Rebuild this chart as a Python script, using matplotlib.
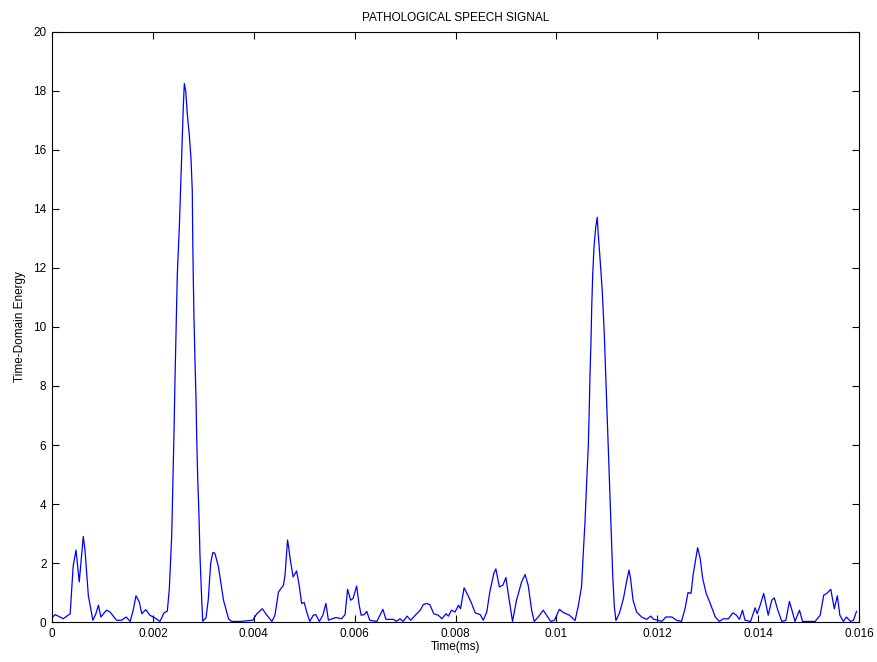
import matplotlib.pyplot as plt

# (time in s, energy)
points = [
    (0.0, 0.14), (0.00006, 0.25), (0.00016, 0.17), (0.00022, 0.11), (0.00036, 0.28),
    (0.00042, 1.9), (0.000476, 2.44), (0.00054, 1.36), (0.00057, 1.93), (0.00062, 2.9),
    (0.000654, 2.44), (0.00072, 0.9), (0.00081, 0.06), (0.00087, 0.28), (0.00092, 0.57),
    (0.00097, 0.17), (0.00102, 0.28), (0.00108, 0.4), (0.00115, 0.34), (0.00128, 0.06),
    (0.00138, 0.06), (0.00147, 0.17), (0.00155, 0.02), (0.00161, 0.4), (0.001665, 0.89),
    (0.00173, 0.68), (0.00178, 0.28), (0.00186, 0.42), (0.00194, 0.23), (0.00203, 0.15),
    (0.00214, 0.02), (0.00222, 0.31), (0.002286, 0.37), (0.002325, 1.1), (0.002373, 2.92),
    (0.002393, 4.4), (0.002419, 6.45), (0.002439, 8.26), (0.002458, 9.74), (0.002484, 11.78),
    (0.002524, 13.37), (0.002552, 14.85), (0.002577, 16.2), (0.002603, 17.46), (0.002623, 18.25),
    (0.002651, 18.0), (0.002682, 17.23), (0.002722, 16.5), (0.002756, 15.7), (0.002781, 14.62),
    (0.002789, 13.14), (0.002801, 11.67), (0.002815, 10.3), (0.002835, 8.83), (0.002855, 7.58),
    (0.002869, 6.22), (0.002889, 4.86), (0.002914, 3.6), (0.002934, 2.24), (0.002968, 0.77),
    (0.002988, 0.03), (0.003053, 0.14), (0.003099, 0.77), (0.003146, 2.0), (0.00319, 2.36),
    (0.00323, 2.33), (0.0033, 1.87), (0.0034, 0.74), (0.0035, 0.11), (0.00356, 0.02),
    (0.00373, 0.02), (0.00398, 0.06), (0.00406, 0.28), (0.00417, 0.45), (0.00426, 0.23),
    (0.00436, 0.02), (0.00442, 0.23), (0.00449, 1.02), (0.00459, 1.25), (0.00462, 1.59),
    (0.00467, 2.78), (0.00469, 2.56), (0.00472, 2.16), (0.00478, 1.53), (0.00485, 1.73),
    (0.0049, 1.25), (0.00495, 0.63), (0.005, 0.66), (0.00505, 0.34), (0.00511, 0.02),
    (0.00518, 0.23), (0.00523, 0.25), (0.0053, 0.02), (0.00537, 0.23), (0.00543, 0.63),
    (0.00548, 0.06), (0.00555, 0.11), (0.00563, 0.15), (0.00574, 0.11), (0.00581, 0.25),
    (0.00586, 1.11), (0.00592, 0.74), (0.00597, 0.8), (0.00604, 1.22), (0.00609, 0.57),
    (0.00613, 0.23), (0.00619, 0.25), (0.00624, 0.36), (0.0063, 0.06), (0.00644, 0.02),
    (0.00656, 0.43), (0.00662, 0.09), (0.00677, 0.09), (0.00683, 0.02), (0.0069, 0.11),
    (0.00696, 0.02), (0.00704, 0.2), (0.00711, 0.06), (0.00723, 0.28), (0.0073, 0.4),
    (0.00736, 0.59), (0.00743, 0.63), (0.00749, 0.59), (0.00757, 0.28), (0.00766, 0.23),
    (0.00773, 0.11), (0.00781, 0.28), (0.00786, 0.2), (0.00792, 0.4), (0.00799, 0.34),
    (0.00806, 0.57), (0.0081, 0.45), (0.00817, 1.16), (0.00825, 0.89), (0.00832, 0.63),
    (0.00839, 0.31), (0.00849, 0.25), (0.00855, 0.06), (0.00862, 0.34), (0.00868, 1.02),
    (0.00876, 1.65), (0.0088, 1.8), (0.00887, 1.19), (0.00894, 1.25), (0.009, 1.51),
    (0.00904, 1.02), (0.00913, 0.02), (0.00921, 0.74), (0.00931, 1.36), (0.00938, 1.61),
    (0.00944, 1.25), (0.00951, 0.4), (0.00956, 0.02), (0.00964, 0.17), (0.00974, 0.4),
    (0.00984, 0.14), (0.00989, 0.02), (0.00996, 0.06), (0.01006, 0.43), (0.01014, 0.32),
    (0.01026, 0.23), (0.01037, 0.05), (0.010434, 0.54), (0.0105, 1.22), (0.01053, 2.24),
    (0.010567, 3.38), (0.0106, 4.74), (0.010633, 5.99), (0.010652, 7.24), (0.010666, 8.37),
    (0.010686, 9.51), (0.0107, 10.65), (0.01072, 11.78), (0.010745, 12.69), (0.010779, 13.37),
    (0.01081, 13.72), (0.01083, 13.14), (0.010864, 12.35), (0.01091, 11.2), (0.01095, 9.74),
    (0.010983, 8.15), (0.01101, 6.79), (0.01105, 4.97), (0.011083, 3.26), (0.011117, 1.56),
    (0.011148, 0.54), (0.01118, 0.05), (0.01125, 0.3), (0.01133, 0.8), (0.01139, 1.36),
    (0.01144, 1.76), (0.01147, 1.48), (0.01152, 0.74), (0.01159, 0.34), (0.01169, 0.17),
    (0.01179, 0.09), (0.01187, 0.2), (0.01193, 0.09), (0.01202, 0.06), (0.01209, 0.02),
    (0.01217, 0.17), (0.01229, 0.17), (0.01238, 0.06), (0.01248, 0.02), (0.01255, 0.45),
    (0.01261, 1.0), (0.01267, 0.97), (0.01271, 1.59), (0.01277, 2.22), (0.0128, 2.52),
    (0.01285, 2.16), (0.0129, 1.48), (0.01297, 0.97), (0.01305, 0.63), (0.01315, 0.17),
    (0.01323, 0.02), (0.01331, 0.11), (0.01341, 0.11), (0.0135, 0.31), (0.01357, 0.23),
    (0.01363, 0.09), (0.01369, 0.4), (0.01374, 0.06), (0.01385, 0.02), (0.01394, 0.48),
    (0.01398, 0.28), (0.01404, 0.57), (0.01411, 0.97), (0.0142, 0.23), (0.01427, 0.74),
    (0.01432, 0.82), (0.01439, 0.4), (0.01447, 0.02), (0.01455, 0.06), (0.01462, 0.7),
    (0.01468, 0.34), (0.01473, 0.02), (0.01482, 0.4), (0.01488, 0.02), (0.01513, 0.02),
    (0.01523, 0.23), (0.0153, 0.91), (0.01536, 0.97), (0.01544, 1.11), (0.01551, 0.45),
    (0.01557, 0.89), (0.01562, 0.23), (0.01569, 0.02), (0.01575, 0.17), (0.01583, 0.02),
    (0.01589, 0.06), (0.01595, 0.36),
]
t = [p[0] for p in points]
energy = [p[1] for p in points]

xticks = [0, 0.002, 0.004, 0.006, 0.008, 0.01, 0.012, 0.014, 0.016]
xlabels = ['0', '0.002', '0.004', '0.006', '0.008', '0.01', '0.012', '0.014', '0.016']
yticks = [0, 2, 4, 6, 8, 10, 12, 14, 16, 18, 20]

plt.rcParams['font.family'] = ['Liberation Sans', 'DejaVu Sans']

fig = plt.figure(figsize=(8.77, 6.62), dpi=100)
ax = fig.add_axes([0.0593, 0.0604, 0.9202, 0.8913])
ax.plot(t, energy, color='#0000ff', lw=0.9)

ax.set_xlim(0, 0.016)
ax.set_ylim(0, 20)
ax.set_xticks(xticks)
ax.set_xticklabels(xlabels)
ax.set_yticks(yticks)
ax.tick_params(direction='in', length=5, width=0.8, top=True, right=True, labelsize=8.5, pad=4)
for s in ax.spines.values():
    s.set_linewidth(0.8)

ax.set_title('PATHOLOGICAL SPEECH SIGNAL', fontsize=8.5, pad=8)
ax.set_xlabel('Time(ms)', fontsize=8.5, labelpad=1)
ax.set_ylabel('Time-Domain Energy', fontsize=8.5, labelpad=5)

fig.savefig('out.png', dpi=100)
